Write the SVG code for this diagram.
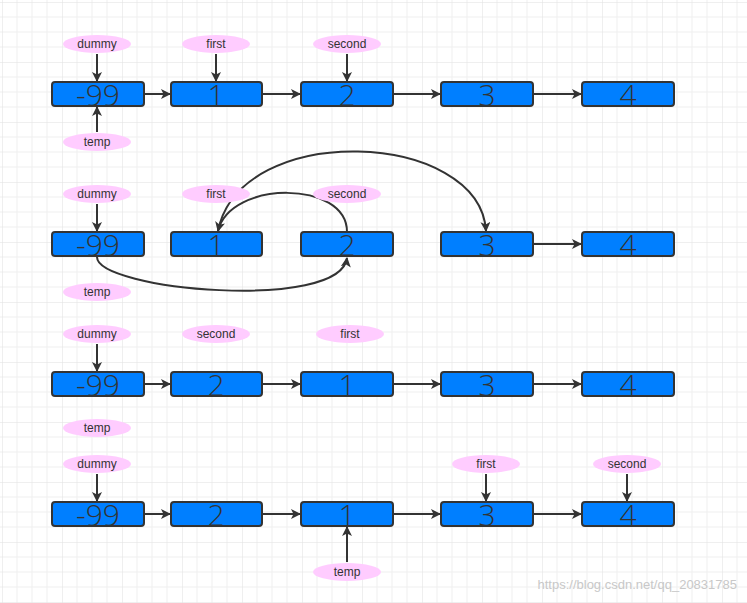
<svg xmlns="http://www.w3.org/2000/svg" width="747" height="603" viewBox="0 0 747 603">
<defs>
<pattern id="g" width="60" height="60" patternUnits="userSpaceOnUse" x="2" y="2">
<path d="M15 0V60M30 0V60M45 0V60M0 15H60M0 30H60M0 45H60" stroke="#efefef" stroke-width="1"/>
<path d="M0 0V60M0 0H60" stroke="#e0e0e0" stroke-width="1"/>
</pattern>
<marker id="a" markerWidth="10" markerHeight="10" refX="9" refY="5" orient="auto" markerUnits="userSpaceOnUse"><path d="M0 0L10 5L0 10L2.5 5Z" fill="#333"/></marker>
</defs>
<style>
.n rect{fill:#007fff;stroke:#333;stroke-width:2}
.n text{font-family:"Open Sans",sans-serif;font-weight:300;font-size:30px;fill:#333;text-anchor:middle}
.l ellipse{fill:#fcf}
.l text{font-family:"Liberation Sans",sans-serif;font-size:12px;fill:#333;text-anchor:middle}
.c path{fill:none;stroke:#333;stroke-width:2;marker-end:url(#a)}
</style>
<rect width="747" height="603" fill="#fff"/>
<rect width="747" height="603" fill="url(#g)"/>
<g class="c">
<path d="M97 54V81"/><path d="M216 54V81"/><path d="M347 54V81"/><path d="M97 132V107"/>
<path d="M145 94H170"/><path d="M263 94H300"/><path d="M394 94H440"/><path d="M534 94H581"/>
<path d="M97 204V231"/>
<path d="M97 257C97 290 340 312 347 258"/>
<path d="M347 232C347 180 230 180 218 231"/>
<path d="M218 231C240 120 480 130 486 231"/>
<path d="M534 244H581"/>
<path d="M97 344V371"/>
<path d="M145 384H170"/><path d="M263 384H300"/><path d="M394 384H440"/><path d="M534 384H581"/>
<path d="M97 474V501"/><path d="M486 474V501"/><path d="M627 474V501"/><path d="M347 562V527"/>
<path d="M145 514H170"/><path d="M263 514H300"/><path d="M394 514H440"/><path d="M534 514H581"/>
</g>
<g id="r1" class="n">
<rect x="52" y="82" width="92" height="24" rx="3"/><text x="98" y="106">-99</text>
<rect x="171" y="82" width="91" height="24" rx="3"/><text x="216" y="106">1</text>
<rect x="301" y="82" width="92" height="24" rx="3"/><text x="347" y="106">2</text>
<rect x="441" y="82" width="92" height="24" rx="3"/><text x="487" y="106">3</text>
<rect x="582" y="82" width="92" height="24" rx="3"/><text x="628" y="106">4</text>
</g>
<g id="r2" class="n">
<rect x="52" y="232" width="92" height="24" rx="3"/><text x="98" y="256">-99</text>
<rect x="171" y="232" width="91" height="24" rx="3"/><text x="216" y="256">1</text>
<rect x="301" y="232" width="92" height="24" rx="3"/><text x="347" y="256">2</text>
<rect x="441" y="232" width="92" height="24" rx="3"/><text x="487" y="256">3</text>
<rect x="582" y="232" width="92" height="24" rx="3"/><text x="628" y="256">4</text>
</g>
<g id="r3" class="n">
<rect x="52" y="372" width="92" height="24" rx="3"/><text x="98" y="396">-99</text>
<rect x="171" y="372" width="91" height="24" rx="3"/><text x="216" y="396">2</text>
<rect x="301" y="372" width="92" height="24" rx="3"/><text x="347" y="396">1</text>
<rect x="441" y="372" width="92" height="24" rx="3"/><text x="487" y="396">3</text>
<rect x="582" y="372" width="92" height="24" rx="3"/><text x="628" y="396">4</text>
</g>
<g id="r4" class="n">
<rect x="52" y="502" width="92" height="24" rx="3"/><text x="98" y="526">-99</text>
<rect x="171" y="502" width="91" height="24" rx="3"/><text x="216" y="526">2</text>
<rect x="301" y="502" width="92" height="24" rx="3"/><text x="347" y="526">1</text>
<rect x="441" y="502" width="92" height="24" rx="3"/><text x="487" y="526">3</text>
<rect x="582" y="502" width="92" height="24" rx="3"/><text x="628" y="526">4</text>
</g>
<g id="labels" class="l">
<ellipse cx="97" cy="44" rx="34" ry="9"/><text x="97" y="48">dummy</text>
<ellipse cx="216" cy="44" rx="34" ry="9"/><text x="216" y="48">first</text>
<ellipse cx="347" cy="44" rx="34" ry="9"/><text x="347" y="48">second</text>
<ellipse cx="97" cy="142" rx="34" ry="9"/><text x="97" y="146">temp</text>
<ellipse cx="97" cy="194" rx="34" ry="9"/><text x="97" y="198">dummy</text>
<ellipse cx="216" cy="194" rx="34" ry="9"/><text x="216" y="198">first</text>
<ellipse cx="347" cy="194" rx="34" ry="9"/><text x="347" y="198">second</text>
<ellipse cx="97" cy="292" rx="34" ry="9"/><text x="97" y="296">temp</text>
<ellipse cx="97" cy="334" rx="34" ry="9"/><text x="97" y="338">dummy</text>
<ellipse cx="216" cy="334" rx="34" ry="9"/><text x="216" y="338">second</text>
<ellipse cx="350" cy="334" rx="34" ry="9"/><text x="350" y="338">first</text>
<ellipse cx="97" cy="428" rx="34" ry="9"/><text x="97" y="432">temp</text>
<ellipse cx="97" cy="464" rx="34" ry="9"/><text x="97" y="468">dummy</text>
<ellipse cx="486" cy="464" rx="34" ry="9"/><text x="486" y="468">first</text>
<ellipse cx="627" cy="464" rx="34" ry="9"/><text x="627" y="468">second</text>
<ellipse cx="347" cy="572" rx="34" ry="9"/><text x="347" y="576">temp</text>
</g>
<text x="737" y="589" text-anchor="end" font-family="Liberation Sans,sans-serif" font-size="13" fill="#c8c8c8">https://blog.csdn.net/qq_20831785</text>
</svg>
